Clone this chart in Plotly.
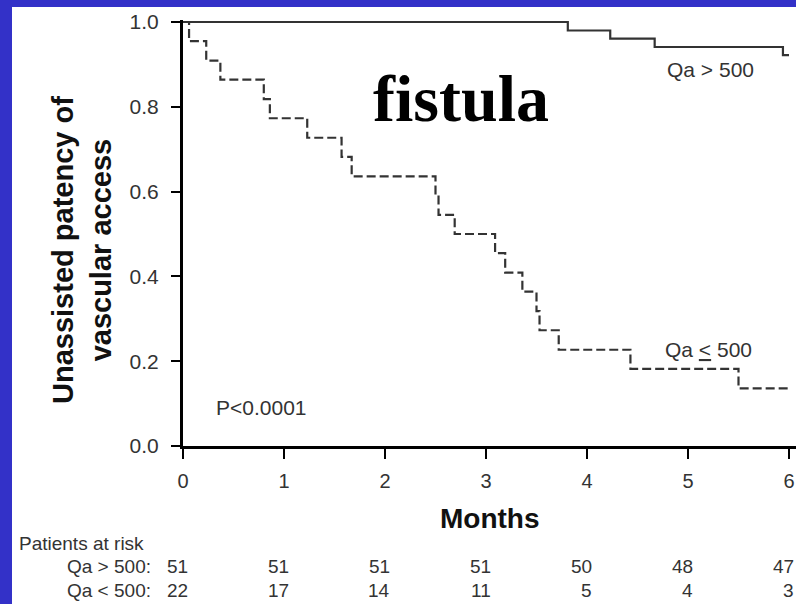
import plotly.graph_objects as go

# ---------------- data ----------------
hi_times = [0, 3.81, 4.23, 4.67, 5.94, 6.0]
hi_surv = [1.0, 0.980, 0.961, 0.941, 0.922, 0.922]

lo_times = [0, 0.06, 0.23, 0.37, 0.80, 0.86, 1.23, 1.57, 1.67, 2.50, 2.53,
            2.69, 3.09, 3.19, 3.36, 3.50, 3.53, 3.72, 4.43, 5.50, 6.0]
lo_surv = [1.0, 0.955, 0.909, 0.864, 0.818, 0.773, 0.727, 0.682, 0.636, 0.591, 0.545,
           0.500, 0.455, 0.409, 0.364, 0.318, 0.273, 0.227, 0.182, 0.136, 0.136]

risk_months = [0, 1, 2, 3, 4, 5, 6]
risk_hi = [51, 51, 51, 51, 50, 48, 47]
risk_lo = [22, 17, 14, 11, 5, 4, 3]
risk_labels = ["Qa > 500:", "Qa < 500:"]

W, H = 796, 604
L, T, B = 183, 20, 158
PW, PH = W - L, H - T - B


def px_x(p):
    return (p - L) / PW


def px_y(p):
    return (H - B - p) / PH


SANS = "Liberation Sans, Arial, sans-serif"
SERIF = "Liberation Serif, Times New Roman, serif"
BLUE = "#3331C8"

fig = go.Figure()
fig.add_trace(go.Scatter(x=hi_times, y=hi_surv, mode="lines", line_shape="hv",
                         line=dict(color="#333333", width=2.2), cliponaxis=False,
                         showlegend=False, hoverinfo="skip"))
fig.add_trace(go.Scatter(x=lo_times, y=lo_surv, mode="lines", line_shape="hv",
                         line=dict(color="#333333", width=2.2, dash="9px,4px"),
                         cliponaxis=False, showlegend=False, hoverinfo="skip"))

ann = []
ann.append(dict(text="<b>fistula</b>", x=2.75, y=0.82, xref="x", yref="y", showarrow=False,
                font=dict(family=SERIF, size=66, color="black"), xanchor="center", yanchor="middle"))
ann.append(dict(text="Qa > 500", x=4.77, y=0.889, xref="x", yref="y", showarrow=False,
                font=dict(family=SANS, size=21, color="#333"), xanchor="left", yanchor="middle"))
ann.append(dict(text="Qa <u>&lt;</u> 500", x=4.75, y=0.228, xref="x", yref="y", showarrow=False,
                font=dict(family=SANS, size=21, color="#333"), xanchor="left", yanchor="middle"))
ann.append(dict(text="P<0.0001", x=0.31, y=0.09, xref="x", yref="y", showarrow=False,
                font=dict(family=SANS, size=21, color="#333"), xanchor="left", yanchor="middle"))
ann.append(dict(text="<b>Months</b>", x=3.04, y=px_y(518), xref="x", yref="paper", showarrow=False,
                font=dict(family=SANS, size=28, color="#111"), xanchor="center", yanchor="middle"))
ann.append(dict(text="<b>Unassisted patency of<br>vascular access</b>", x=px_x(82), y=px_y(250),
                xref="paper", yref="paper", showarrow=False, textangle=-90,
                font=dict(family=SANS, size=29, color="#111"), xanchor="center", yanchor="middle"))
ann.append(dict(text="Patients at risk", x=px_x(17), y=px_y(543), xref="paper", yref="paper",
                showarrow=False, font=dict(family=SANS, size=19, color="#333"),
                xanchor="left", yanchor="middle"))
for lab, yy in zip(risk_labels, [566, 590]):
    ann.append(dict(text=lab, x=px_x(153), y=px_y(yy), xref="paper", yref="paper",
                    showarrow=False, font=dict(family=SANS, size=19, color="#333"),
                    xanchor="right", yanchor="middle"))
for row, yy in zip([risk_hi, risk_lo], [566, 590]):
    for m, v in zip(risk_months, row):
        ann.append(dict(text=str(v), x=m, xshift=7, y=px_y(yy), xref="x", yref="paper",
                        showarrow=False, font=dict(family=SANS, size=19, color="#333"),
                        xanchor="right", yanchor="middle"))

shapes = [
    dict(type="rect", xref="paper", yref="paper", x0=px_x(0), x1=px_x(12), y0=px_y(H), y1=px_y(0),
         fillcolor=BLUE, line=dict(width=0), layer="above"),
    dict(type="rect", xref="paper", yref="paper", x0=px_x(0), x1=px_x(W), y0=px_y(7), y1=px_y(0),
         fillcolor=BLUE, line=dict(width=0), layer="above"),
]

fig.update_layout(
    width=W, height=H, margin=dict(l=L, r=0, t=T, b=B),
    paper_bgcolor="white", plot_bgcolor="white",
    annotations=ann, shapes=shapes, showlegend=False,
    xaxis=dict(range=[0, PW / 101.0], tickvals=risk_months, ticks="outside", ticklen=10,
               tickwidth=2, tickcolor="black", showline=True, linecolor="black", linewidth=3,
               showgrid=False, zeroline=False, ticklabelstandoff=5,
               tickfont=dict(family=SANS, size=20, color="#333")),
    yaxis=dict(range=[0, PH / 424.0], tickvals=[0, 0.2, 0.4, 0.6, 0.8, 1.0], tickformat=".1f",
               ticks="outside", ticklen=9, tickwidth=2, tickcolor="black", showline=True,
               linecolor="black", linewidth=3, showgrid=False, zeroline=False,
               ticklabelstandoff=8, tickfont=dict(family=SANS, size=21, color="#333")),
)

fig.write_html("out.html")
